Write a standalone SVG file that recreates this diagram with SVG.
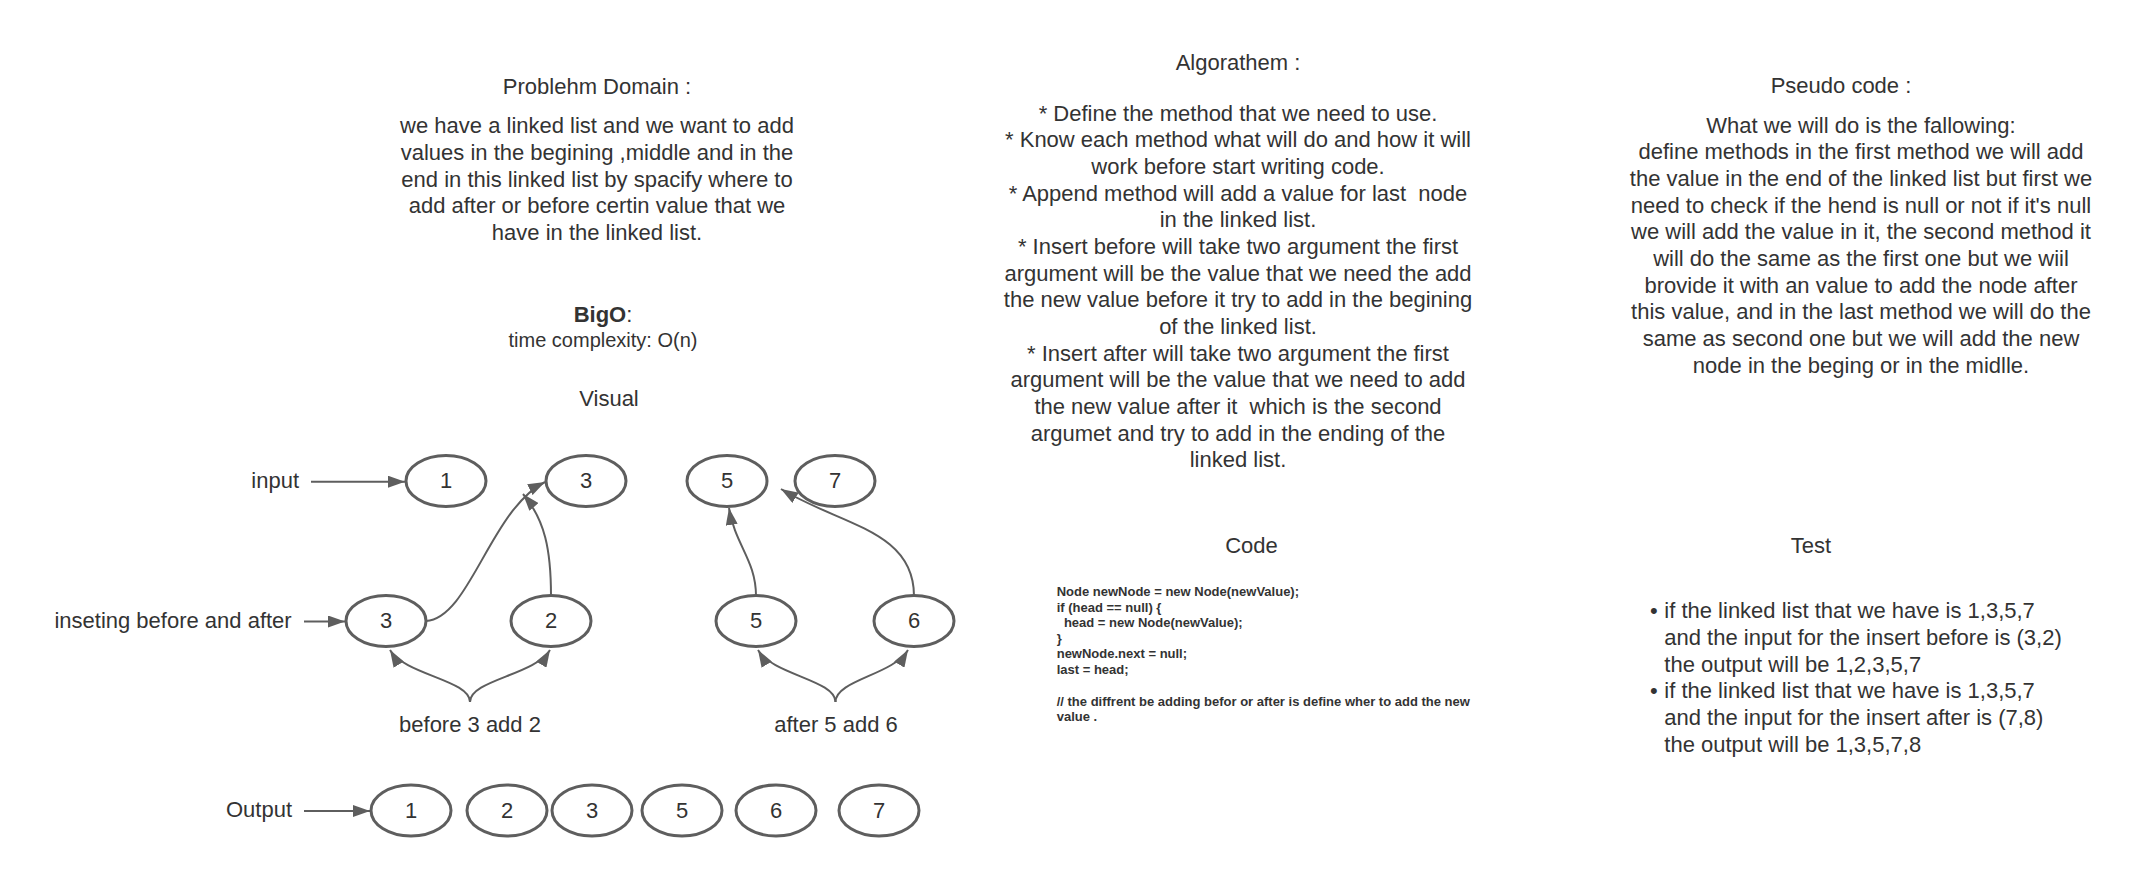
<svg xmlns="http://www.w3.org/2000/svg" width="2151" height="876" viewBox="0 0 2151 876">
<style>
text{font-family:"Liberation Sans",Arial,sans-serif;fill:#333333;font-size:22px}
.c{text-anchor:middle}
.e{text-anchor:end}
.pre{white-space:pre}
.code{font-size:13px;font-weight:bold;white-space:pre}
.node ellipse{fill:#ffffff;stroke:#5e5e5e;stroke-width:3}
.conn path{fill:none;stroke:#5e5e5e;stroke-width:2;marker-end:url(#ah)}
</style>
<defs>
<marker id="ah" markerUnits="userSpaceOnUse" markerWidth="18" markerHeight="12" refX="17" refY="6" orient="auto">
<path d="M0,0 L17,6 L0,12 z" fill="#5e5e5e"/>
</marker>
</defs>
<rect width="2151" height="876" fill="#ffffff"/>

<g id="problem-domain">
<text class="c" x="597" y="94">Problehm Domain :</text>
<text class="c" x="597" y="133.3">we have a linked list and we want to add</text>
<text class="c" x="597" y="160">values in the begining ,middle and in the</text>
<text class="c" x="597" y="186.7">end in this linked list by spacify where to</text>
<text class="c" x="597" y="213.3">add after or before certin value that we</text>
<text class="c" x="597" y="240">have in the linked list.</text>
</g>

<g id="bigo">
<text class="c" x="603" y="321.7"><tspan font-weight="bold">BigO</tspan>:</text>
<text class="c" x="603" y="346.7" style="font-size:20px">time complexity: O(n)</text>
</g>

<g id="visual-title"><text class="c" x="609" y="405.7">Visual</text></g>

<g id="algorithm">
<text class="c" x="1238" y="70">Algorathem :</text>
<text class="c" x="1238" y="120.7">* Define the method that we need to use.</text>
<text class="c" x="1238" y="147.3">* Know each method what will do and how it will</text>
<text class="c" x="1238" y="174">work before start writing code.</text>
<text class="c pre" x="1238" y="200.7">* Append method will add a value for last  node</text>
<text class="c" x="1238" y="227.3">in the linked list.</text>
<text class="c" x="1238" y="254">* Insert before will take two argument the first</text>
<text class="c" x="1238" y="280.7">argument will be the value that we need the add</text>
<text class="c" x="1238" y="307.3">the new value before it try to add in the begining</text>
<text class="c" x="1238" y="334">of the linked list.</text>
<text class="c" x="1238" y="360.7">* Insert after will take two argument the first</text>
<text class="c" x="1238" y="387.3">argument will be the value that we need to add</text>
<text class="c pre" x="1238" y="414">the new value after it  which is the second</text>
<text class="c" x="1238" y="440.7">argumet and try to add in the ending of the</text>
<text class="c" x="1238" y="467.3">linked list.</text>
</g>

<g id="pseudo-code">
<text class="c" x="1841" y="93.3">Pseudo code :</text>
<text class="c" x="1861" y="132.7">What we will do is the fallowing:</text>
<text class="c" x="1861" y="159.3">define methods in the first method we will add</text>
<text class="c" x="1861" y="186">the value in the end of the linked list but first we</text>
<text class="c" x="1861" y="212.7">need to check if the hend is null or not if it's null</text>
<text class="c" x="1861" y="239.3">we will add the value in it, the second method it</text>
<text class="c" x="1861" y="266">will do the same as the first one but we wiil</text>
<text class="c" x="1861" y="292.7">brovide it with an value to add the node after</text>
<text class="c" x="1861" y="319.3">this value, and in the last method we will do the</text>
<text class="c" x="1861" y="346">same as second one but we will add the new</text>
<text class="c" x="1861" y="372.7">node in the beging or in the midlle.</text>
</g>

<g id="code">
<text class="c" x="1251.5" y="553.3">Code</text>
<text class="code" x="1056.7" y="596">Node newNode = new Node(newValue);</text>
<text class="code" x="1056.7" y="611.7">if (head == null) {</text>
<text class="code" x="1056.7" y="627.3">  head = new Node(newValue);</text>
<text class="code" x="1056.7" y="642.7">}</text>
<text class="code" x="1056.7" y="658.3">newNode.next = null;</text>
<text class="code" x="1056.7" y="674">last = head;</text>
<text class="code" x="1056.7" y="705.7">// the diffrent be adding befor or after is define wher to add the new</text>
<text class="code" x="1056.7" y="721">value .</text>
</g>

<g id="test">
<text class="c" x="1811" y="553.3">Test</text>
<text x="1650" y="618.3">•</text>
<text x="1664.3" y="618.3">if the linked list that we have is 1,3,5,7</text>
<text x="1664.3" y="645">and the input for the insert before is (3,2)</text>
<text x="1664.3" y="671.7">the output will be 1,2,3,5,7</text>
<text x="1650" y="698.3">•</text>
<text x="1664.3" y="698.3">if the linked list that we have is 1,3,5,7</text>
<text x="1664.3" y="725">and the input for the insert after is (7,8)</text>
<text x="1664.3" y="751.7">the output will be 1,3,5,7,8</text>
</g>

<g id="labels">
<text class="e" x="299" y="488">input</text>
<text class="e" x="291.7" y="628">inseting before and after</text>
<text class="c" x="470" y="731.7">before 3 add 2</text>
<text class="c" x="836" y="731.7">after 5 add 6</text>
<text class="e" x="292" y="817">Output</text>
</g>

<g id="in-1" class="node"><ellipse cx="446" cy="481" rx="40" ry="25.5"/><text class="c" x="446" y="488">1</text></g>
<g id="in-3" class="node"><ellipse cx="586" cy="481" rx="40" ry="25.5"/><text class="c" x="586" y="488">3</text></g>
<g id="in-5" class="node"><ellipse cx="727" cy="481" rx="40" ry="25.5"/><text class="c" x="727" y="488">5</text></g>
<g id="in-7" class="node"><ellipse cx="835" cy="481" rx="40" ry="25.5"/><text class="c" x="835" y="488">7</text></g>

<g id="ins-3" class="node"><ellipse cx="386" cy="621" rx="40" ry="25.5"/><text class="c" x="386" y="628">3</text></g>
<g id="ins-2" class="node"><ellipse cx="551" cy="621" rx="40" ry="25.5"/><text class="c" x="551" y="628">2</text></g>
<g id="ins-5" class="node"><ellipse cx="756" cy="621" rx="40" ry="25.5"/><text class="c" x="756" y="628">5</text></g>
<g id="ins-6" class="node"><ellipse cx="914" cy="621" rx="40" ry="25.5"/><text class="c" x="914" y="628">6</text></g>

<g id="out-1" class="node"><ellipse cx="411" cy="810.5" rx="40" ry="25.5"/><text class="c" x="411" y="817.5">1</text></g>
<g id="out-2" class="node"><ellipse cx="507" cy="810.5" rx="40" ry="25.5"/><text class="c" x="507" y="817.5">2</text></g>
<g id="out-3" class="node"><ellipse cx="592" cy="810.5" rx="40" ry="25.5"/><text class="c" x="592" y="817.5">3</text></g>
<g id="out-5" class="node"><ellipse cx="682" cy="810.5" rx="40" ry="25.5"/><text class="c" x="682" y="817.5">5</text></g>
<g id="out-6" class="node"><ellipse cx="776" cy="810.5" rx="40" ry="25.5"/><text class="c" x="776" y="817.5">6</text></g>
<g id="out-7" class="node"><ellipse cx="879" cy="810.5" rx="40" ry="25.5"/><text class="c" x="879" y="817.5">7</text></g>

<g id="connectors" class="conn">
<path d="M311,481.7 L405,481.7"/>
<path d="M304,621.5 L345,621.5"/>
<path d="M304,811 L370,811"/>
<path d="M426,621 C470,618 490,510 545,482"/>
<path d="M551,596 C551,550 545,520 523,494"/>
<path d="M756,596 C756,560 735,545 729,508"/>
<path d="M914,596 C914,530 840,525 781,489"/>
<path d="M470,702 C470,680 405,675 390,650"/>
<path d="M470,702 C470,680 535,675 550,650"/>
<path d="M835.5,702 C835.5,680 773,675 758,650"/>
<path d="M835.5,702 C835.5,680 893,675 908,650"/>
</g>
</svg>
